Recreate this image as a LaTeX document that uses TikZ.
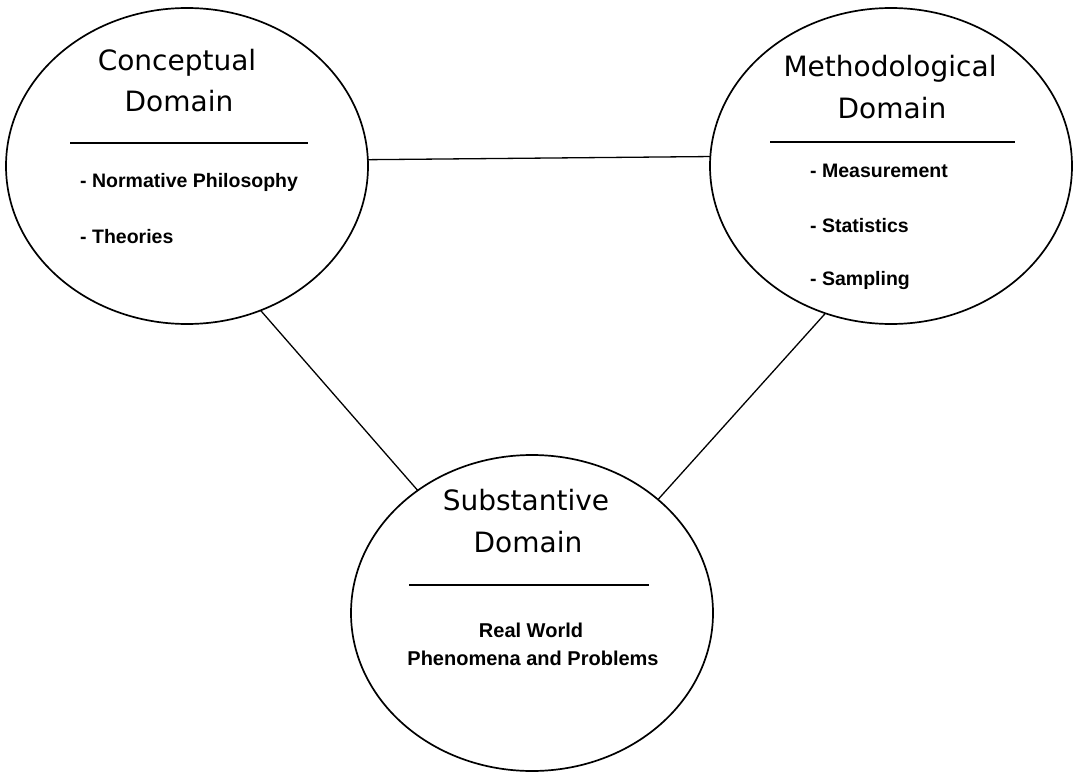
\documentclass[tikz,border=0pt]{standalone}
\usepackage{fontspec}
\setmainfont{Liberation Sans}
\newfontfamily\titlefont{DejaVu Sans}
\usetikzlibrary{shapes.geometric}
\begin{document}
\begin{tikzpicture}[x=1pt,y=-1pt,
  domainbox/.style={ellipse, draw, line width=1.7pt, minimum width=362pt,
    minimum height=316pt, inner sep=0pt, outer sep=0pt},
  linkline/.style={line width=1.3pt},
  sepline/.style={line width=1.6pt},
  titletext/.style={anchor=base, inner sep=0pt,
    font=\titlefont\fontsize{28}{34}\selectfont},
  itemtext/.style={anchor=base west, inner sep=0pt,
    font=\bfseries\fontsize{19.5}{24}\selectfont},
  itemctext/.style={anchor=base, inner sep=0pt,
    font=\bfseries\fontsize{20}{24}\selectfont}]
\useasboundingbox (0,0) rectangle (1073,773);

% the three domains
\node[domainbox] (con) at (187,166) {};
\node[domainbox] (met) at (891,166) {};
\node[domainbox] (sub) at (532,613) {};

% links between the domains
\draw[linkline] (con.2.9) -- (met.177.1);
\draw[linkline] (con.-63) -- (sub.133.5);
\draw[linkline] (met.-114.4) -- (sub.42.6);

% conceptual domain
\node[titletext] (conA) at (177,71) {Conceptual};
\node[titletext] (conB) at (179,112) {Domain};
\coordinate (conL) at (70,143);
\coordinate (conR) at (308,143);
\draw[sepline] (conL) -- (conR);
\node[itemtext] (con1) at (80,187) {- Normative Philosophy};
\node[itemtext] (con2) at (80,243) {- Theories};

% methodological domain
\node[titletext] (metA) at (890,77) {Methodological};
\node[titletext] (metB) at (892,119) {Domain};
\coordinate (metL) at (770,142);
\coordinate (metR) at (1015,142);
\draw[sepline] (metL) -- (metR);
\node[itemtext] (met1) at (810,177) {- Measurement};
\node[itemtext] (met2) at (810,232) {- Statistics};
\node[itemtext] (met3) at (810,285) {- Sampling};

% substantive domain
\node[titletext] (subA) at (526,510) {Substantive};
\node[titletext] (subB) at (528,552) {Domain};
\coordinate (subL) at (409,585);
\coordinate (subR) at (649,585);
\draw[sepline] (subL) -- (subR);
\node[itemctext] (sub1) at (531,637) {Real World};
\node[itemctext] (sub2) at (533,665) {Phenomena and Problems};
\end{tikzpicture}
\end{document}
